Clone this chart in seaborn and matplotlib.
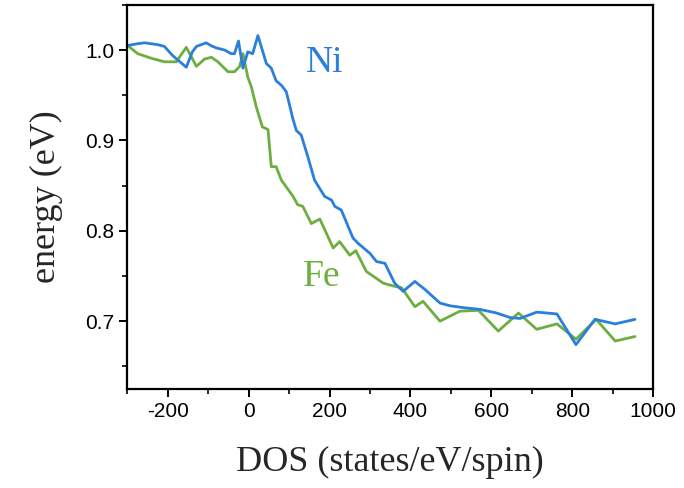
import matplotlib
matplotlib.use("Agg")
import matplotlib.pyplot as plt
import pandas as pd
import seaborn as sns
from matplotlib.ticker import MultipleLocator

ni_dos = [-299, -275, -257, -225, -208, -188, -154, -139, -129, -105, -89, -77, -59, -43, -35,
          -25, -14, -2, 10, 23, 44, 56, 68, 81, 93, 110, 118, 130, 147, 163, 188, 205, 213, 229,
          258, 271, 300, 316, 337, 361, 382, 411, 436, 473, 498, 530, 572, 613, 646, 671, 712,
          762, 809, 856, 906, 955]
ni_energy = [1.005, 1.007, 1.008, 1.006, 1.004, 0.994, 0.981, 0.998, 1.004, 1.008, 1.004, 1.002,
             1.000, 0.996, 0.996, 1.010, 0.980, 0.998, 0.996, 1.016, 0.985, 0.980, 0.966, 0.961,
             0.954, 0.923, 0.911, 0.906, 0.881, 0.856, 0.838, 0.834, 0.827, 0.823, 0.792, 0.786,
             0.775, 0.766, 0.764, 0.742, 0.733, 0.744, 0.735, 0.720, 0.717, 0.715, 0.713, 0.709,
             0.704, 0.703, 0.710, 0.708, 0.674, 0.702, 0.697, 0.702]

fe_dos = [-299, -274, -241, -208, -179, -154, -129, -109, -92, -76, -51, -35, -22, -14, -2, 7,
          19, 34, 48, 56, 68, 81, 89, 110, 121, 134, 155, 176, 209, 225, 250, 265, 291, 333, 357,
          378, 411, 431, 473, 522, 568, 617, 667, 712, 762, 809, 859, 906, 955]
fe_energy = [1.005, 0.996, 0.991, 0.987, 0.987, 1.003, 0.982, 0.990, 0.992, 0.987, 0.976, 0.976,
             0.982, 0.996, 0.970, 0.959, 0.937, 0.915, 0.912, 0.871, 0.871, 0.856, 0.851, 0.838,
             0.829, 0.827, 0.808, 0.813, 0.781, 0.788, 0.773, 0.778, 0.755, 0.742, 0.739, 0.737,
             0.716, 0.722, 0.700, 0.711, 0.712, 0.689, 0.709, 0.691, 0.697, 0.680, 0.702, 0.678,
             0.683]

blue = "#2a7fdc"
green = "#6cae3f"

sns.set_style("ticks")
plt.rcParams["font.family"] = ["Liberation Sans", "DejaVu Sans"]
plt.rcParams["axes.unicode_minus"] = False

fig = plt.figure(figsize=(6.84, 4.88), dpi=100)
ax = fig.add_axes([0.186, 0.203, 0.769, 0.787])

ni = pd.DataFrame({"dos": ni_dos, "energy": ni_energy})
fe = pd.DataFrame({"dos": fe_dos, "energy": fe_energy})
sns.lineplot(data=fe, x="dos", y="energy", color=green, linewidth=2.0, ax=ax)
sns.lineplot(data=ni, x="dos", y="energy", color=blue, linewidth=2.0, ax=ax)

ax.set_xlim(-300, 1000)
ax.set_ylim(0.625, 1.05)
ax.xaxis.set_major_locator(MultipleLocator(200))
ax.xaxis.set_minor_locator(MultipleLocator(100))
ax.yaxis.set_minor_locator(MultipleLocator(0.05))
ax.set_yticks([0.7, 0.8, 0.9, 1.0])
ax.yaxis.set_major_formatter(matplotlib.ticker.FormatStrFormatter("%.1f"))

for side in ["left", "right", "top", "bottom"]:
    ax.spines[side].set_visible(True)
    ax.spines[side].set_linewidth(1.6)
    ax.spines[side].set_color("black")
ax.tick_params(which="major", direction="out", length=6, width=1.4, labelsize=15,
               top=False, right=False, colors="black")
ax.tick_params(which="minor", direction="out", length=3.5, width=1.4, top=False, right=False)

serif = ["Liberation Serif", "DejaVu Serif"]
ax.set_xlabel("DOS (states/eV/spin)", family=serif, fontsize=26, labelpad=18)
ax.set_ylabel("energy (eV)", family=serif, fontsize=26, labelpad=16)

ax.text(188, 0.986, "Ni", color=blue, family=serif, fontsize=27, ha="center", va="center")
ax.text(180, 0.749, "Fe", color=green, family=serif, fontsize=27, ha="center", va="center")

fig.savefig("out.png", dpi=100)
